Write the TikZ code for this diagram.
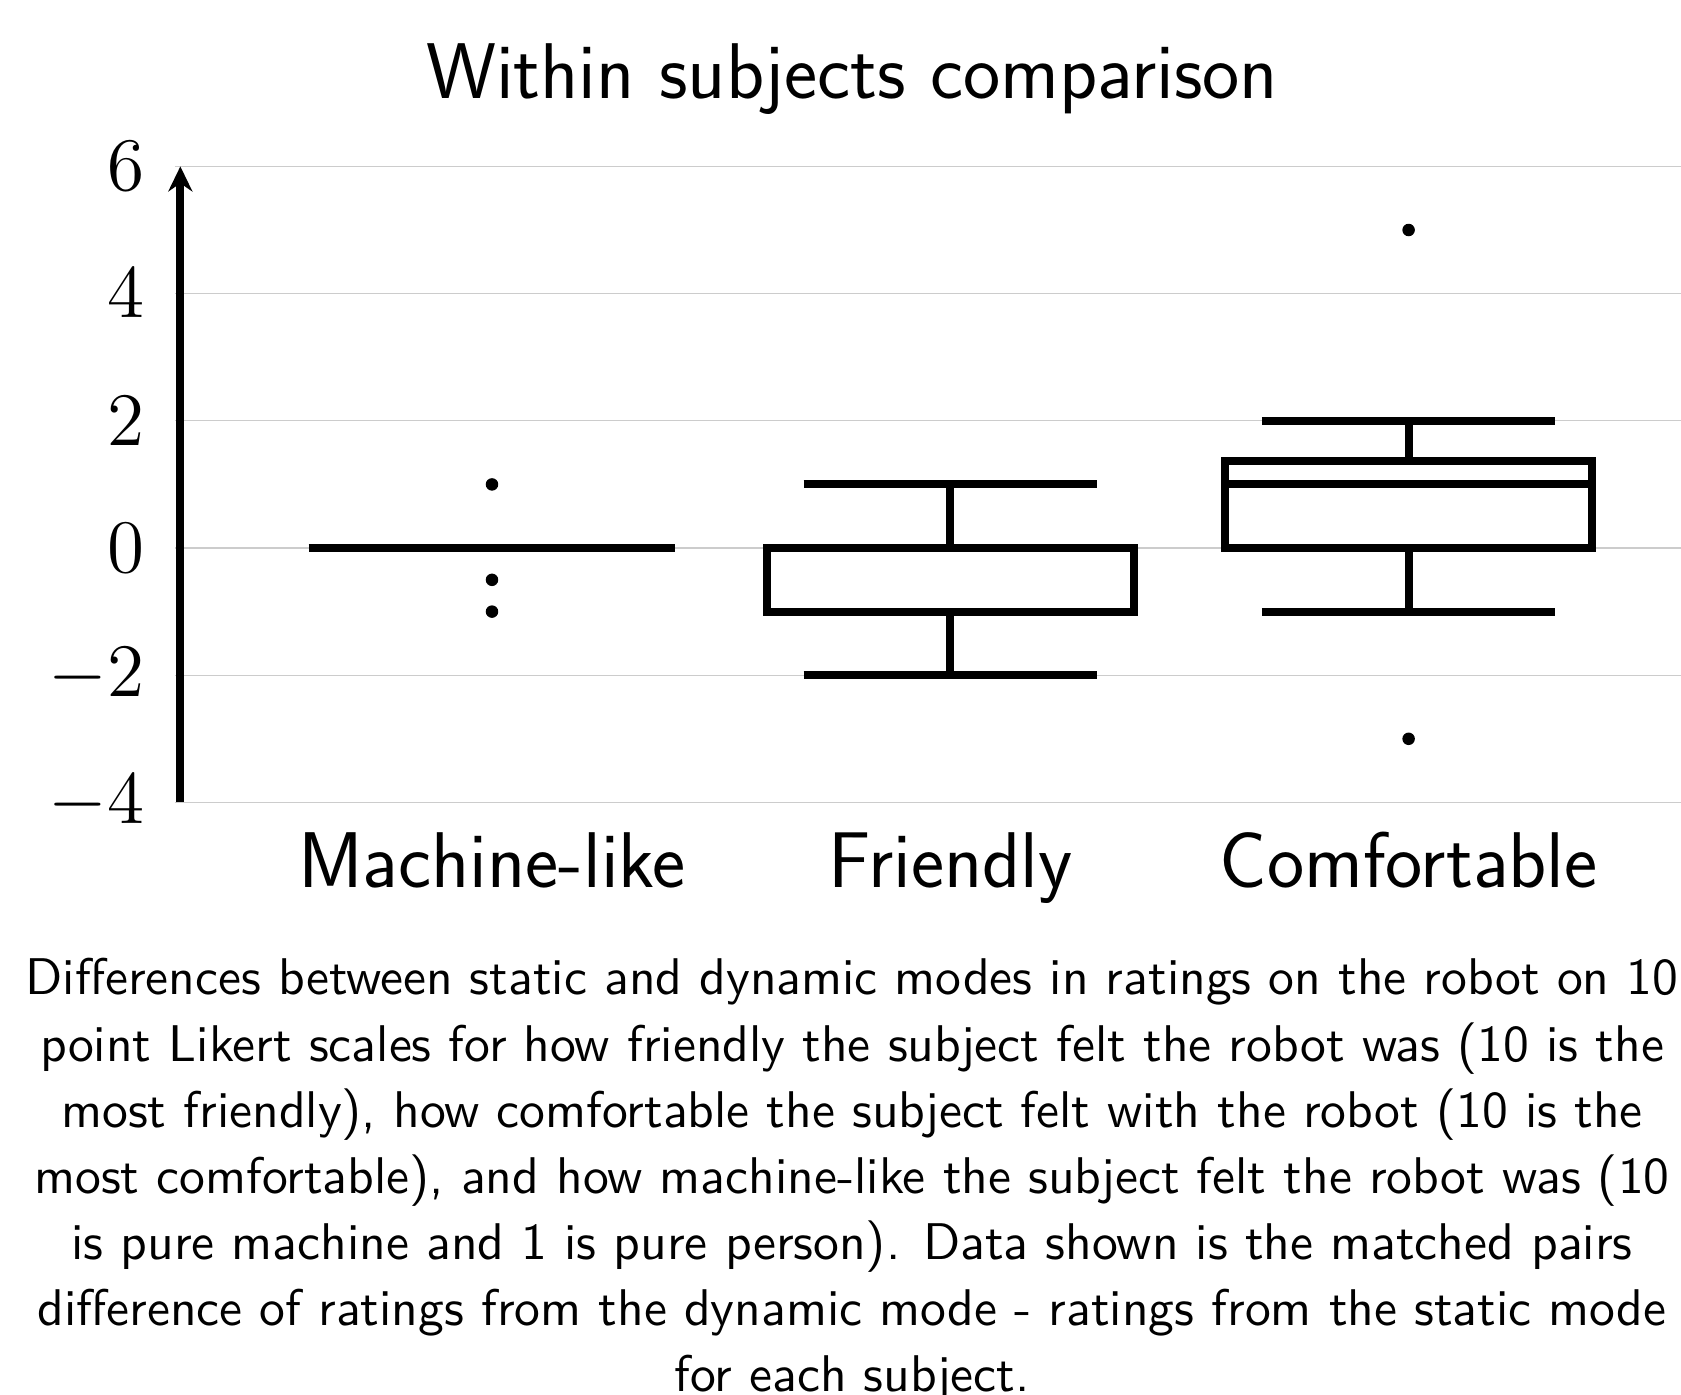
\documentclass[tikz,border=0pt]{standalone}
\usepackage{fix-cm}
\usepackage{fontspec}
\usetikzlibrary{arrows.meta}
\begin{document}
\begin{tikzpicture}[x=91.66pt,y=12.72pt,grid/.style={draw=black!20,line width=0.25pt},bxp/.style={draw=black,line width=1.6pt},outl/.style={shape=circle,fill=black,inner sep=0pt,minimum size=2.5pt},tlab/.style={anchor=east,inner sep=0pt,font=\fontsize{15.1}{18}\selectfont},clab/.style={anchor=base,font=\sffamily\fontsize{15.8}{19}\selectfont},capl/.style={anchor=base,font=\sffamily\fontsize{10.32}{12.4}\selectfont}]
\def\axx{0.32};
\def\bw{0.4};
\def\cw{0.32};
\def\dy{-1.038};

\useasboundingbox (-0.0735,8.6164) rectangle (3.5944,-13.302);

% grid and y axis
\foreach \y in {-4,-2,...,6}
  \draw[grid] (0.308,\y) -- (3.6,\y);
\foreach \y in {-4,-2,...,6}
  \node[tlab] (t\y) at (0.243,\y) {$\y$};
\draw[bxp,-{Stealth[length=5pt,width=4.8pt]}] (\axx,-4) -- (\axx,6);

\node[anchor=base,font=\sffamily\fontsize{15.8}{19}\selectfont] (title) at (1.7855,7.066) {Within subjects comparison};

% Machine-like
\draw[bxp] (1-\bw,0) -- (1+\bw,0);
\node[outl] (m1) at (1,1) {};
\node[outl] (m2) at (1,-0.5) {};
\node[outl] (m3) at (1,-1) {};

% Friendly
\draw[bxp] (2-\bw,-1) rectangle (2+\bw,0);
\draw[bxp] (2,0) -- (2,1);
\draw[bxp] (2-\cw,1) -- (2+\cw,1);
\draw[bxp] (2,-1) -- (2,-2);
\draw[bxp] (2-\cw,-2) -- (2+\cw,-2);

% Comfortable
\draw[bxp] (3-\bw,0) rectangle (3+\bw,1.375);
\draw[bxp] (3-\bw,1) -- (3+\bw,1);
\draw[bxp] (3,1.375) -- (3,2);
\draw[bxp] (3-\cw,2) -- (3+\cw,2);
\draw[bxp] (3,0) -- (3,-1);
\draw[bxp] (3-\cw,-1) -- (3+\cw,-1);
\node[outl] (c1) at (3,5) {};
\node[outl] (c2) at (3,-3) {};

\node[clab] (lm) at (1,-5.34) {Machine-like};
\node[clab] (lf) at (2,-5.34) {Friendly};
\node[clab] (lc) at (3,-5.34) {Comfortable};

% caption
\foreach \t [count=\i] in {{Differences between static and dynamic modes in ratings on the robot on 10},{point Likert scales for how friendly the subject felt the robot was (10 is the},{most friendly), how comfortable the subject felt with the robot (10 is the},{most comfortable), and how machine-like the subject felt the robot was (10},{is pure machine and 1 is pure person). Data shown is the matched pairs},{difference of ratings from the dynamic mode - ratings from the static mode},{for each subject.}}
  \node[capl] (cap\i) at (1.7855,{-7.028+\dy*(\i-1)}) {\t};
\end{tikzpicture}
\end{document}
